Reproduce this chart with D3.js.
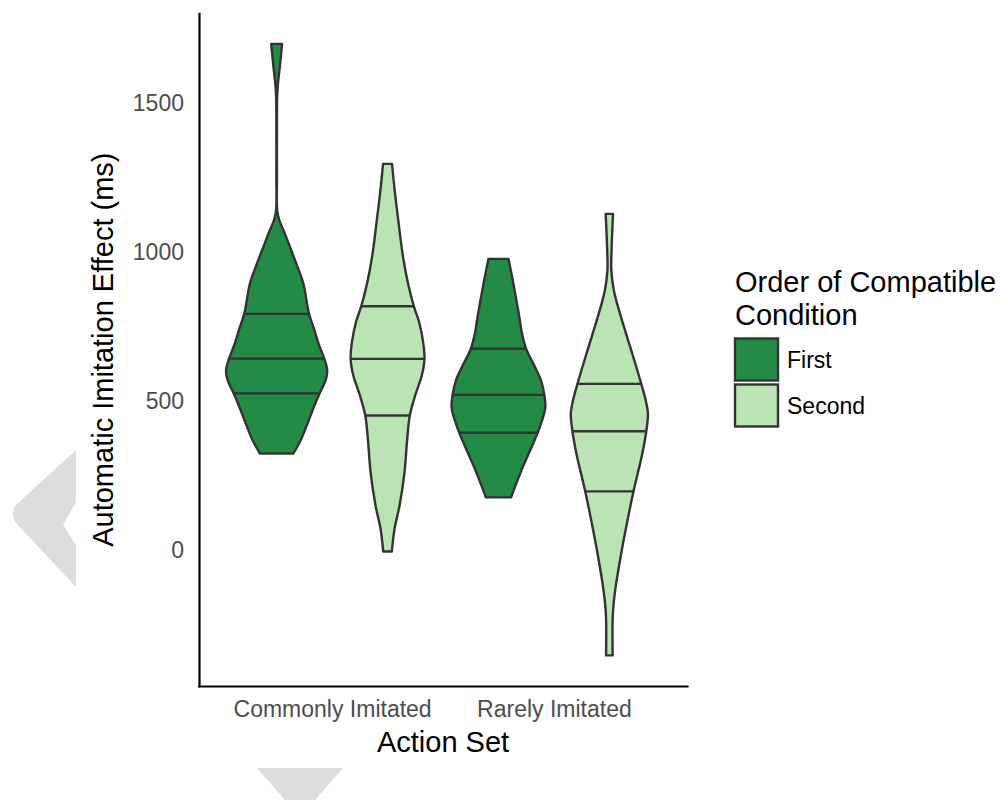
<!DOCTYPE html>
<html>
<head>
<meta charset="utf-8">
<script src="https://cdn.jsdelivr.net/npm/d3@7"></script>
<style>
  html, body { margin: 0; padding: 0; background: #ffffff; }
  svg { display: block; }
  text { font-family: "Liberation Sans", Arial, Helvetica, sans-serif; }
</style>
</head>
<body>
<svg id="chart" width="1001" height="800"></svg>
<script>
// ---------------- data ----------------
const categories = ["Commonly Imitated", "Rarely Imitated"];
const orders = ["First", "Second"];
const yTicks = [0, 500, 1000, 1500];

// density profiles: value (ms) and relative density (max = 1)
const commonFirstValues  = [1700, 1625, 1566, 1521, 1400, 1250, 1140, 1107, 1062, 1006, 951, 896, 793, 737, 693, 643, 603, 569, 526, 478, 425, 368, 324];
const commonFirstDensity = [0.108, 0.065, 0.026, 0.010, 0.006, 0.006, 0.012, 0.053, 0.164, 0.290, 0.414, 0.527, 0.641, 0.750, 0.828, 0.941, 1.000, 0.966, 0.848, 0.730, 0.611, 0.473, 0.329];
const commonFirstQuantiles = [526, 643, 793];

const commonSecondValues  = [1297, 1213, 1101, 989, 899, 819, 765, 698, 642, 586, 519, 452, 373, 261, 149, 71, -5];
const commonSecondDensity = [0.089, 0.138, 0.217, 0.302, 0.400, 0.519, 0.625, 0.704, 0.730, 0.677, 0.546, 0.440, 0.389, 0.335, 0.237, 0.138, 0.085];
const commonSecondQuantiles = [452, 642, 819];

const rareFirstValues  = [978, 894, 782, 726, 676, 614, 569, 521, 480, 435, 394, 334, 278, 222, 177];
const rareFirstDensity = [0.197, 0.296, 0.414, 0.467, 0.546, 0.724, 0.842, 0.907, 0.927, 0.862, 0.775, 0.625, 0.479, 0.349, 0.250];
const rareFirstQuantiles = [394, 521, 676];

const rareSecondValues  = [1129, 1006, 939, 872, 782, 670, 558, 502, 457, 399, 323, 197, 88, -24, -136, -203, -247, -354];
const rareSecondDensity = [0.073, 0.043, 0.039, 0.089, 0.231, 0.434, 0.631, 0.720, 0.763, 0.730, 0.651, 0.477, 0.345, 0.221, 0.114, 0.073, 0.063, 0.065];
const rareSecondQuantiles = [197, 399, 558];

// table built from the arrays above
const violins = [
  { cat: categories[0], order: orders[0], values: commonFirstValues,  density: commonFirstDensity,  q: commonFirstQuantiles },
  { cat: categories[0], order: orders[1], values: commonSecondValues, density: commonSecondDensity, q: commonSecondQuantiles },
  { cat: categories[1], order: orders[0], values: rareFirstValues,    density: rareFirstDensity,    q: rareFirstQuantiles },
  { cat: categories[1], order: orders[1], values: rareSecondValues,   density: rareSecondDensity,   q: rareSecondQuantiles }
];

// ---------------- layout / styles ----------------
const svg = d3.select("#chart");
const plot = { left: 199, right: 687, top: 13.3, bottom: 686 };
const fills = { First: "#238b45", Second: "#bae4b3" };
const outline = "#333333";
const lw = 2.4;

// decorative grey shapes present in the reference picture
const deco = svg.append("g").attr("fill", "#dddddd");
deco.append("path").attr("d", "M76,450 L16,505 Q10,514 16,523 L76,587 L76,545 L63,525 L76,502 Z");
deco.append("path").attr("d", "M257,768 L343,768 L300,817 Z");

// scales
const allVals = violins.flatMap(v => v.values);
const vMin = d3.min(allVals), vMax = d3.max(allVals);
const pad = (vMax - vMin) * 0.05;
const y = d3.scaleLinear().domain([vMin - pad, vMax + pad]).range([plot.bottom, plot.top]);
const x = d3.scalePoint().domain(categories).range([plot.left, plot.right]).padding(0.6);
const step = x.step();
const dodge = d3.scalePoint().domain(orders).range([-0.25 * step, 0.25 * step]);
const w = d3.scaleLinear().domain([0, 1]).range([0, 0.228 * step]);

// violins
const gV = svg.append("g");
violins.forEach(v => {
  const cx = x(v.cat) + dodge(v.order);
  const pts = v.values.map((val, i) => ({ val, d: v.density[i] }));
  const area = d3.area()
    .y(p => y(p.val))
    .x0(p => cx - w(p.d))
    .x1(p => cx + w(p.d))
    .curve(d3.curveCatmullRom.alpha(0.5));
  gV.append("path")
    .attr("d", area(pts))
    .attr("fill", fills[v.order])
    .attr("stroke", outline)
    .attr("stroke-width", lw)
    .attr("stroke-linejoin", "round");
  v.q.forEach(qv => {
    const idx = v.values.indexOf(qv);
    const dq = v.density[idx];
    gV.append("line")
      .attr("x1", cx - w(dq)).attr("x2", cx + w(dq))
      .attr("y1", y(qv)).attr("y2", y(qv))
      .attr("stroke", outline).attr("stroke-width", lw);
  });
});

// axes
const yAxis = svg.append("g")
  .attr("transform", `translate(${plot.left},0)`)
  .call(d3.axisLeft(y).tickValues(yTicks).tickFormat(d3.format("d")).tickSize(0).tickSizeOuter(0).tickPadding(15));
const xAxis = svg.append("g")
  .attr("transform", `translate(0,${plot.bottom})`)
  .call(d3.axisBottom(x).tickSize(0).tickSizeOuter(0).tickPadding(15));
[yAxis, xAxis].forEach(a => {
  a.select(".domain").attr("stroke", "#000").attr("stroke-width", 2.2).attr("stroke-linecap", "square");
  a.selectAll(".tick text")
    .attr("fill", "#4d4d4d")
    .style("font-size", "23px")
    .style("font-family", '"Liberation Sans", Arial, sans-serif');
});

// axis titles
svg.append("text")
  .attr("x", (plot.left + plot.right) / 2).attr("y", 752)
  .attr("text-anchor", "middle").attr("fill", "#000")
  .style("font-size", "29px")
  .text("Action Set");
svg.append("text")
  .attr("transform", `translate(113,${(plot.top + plot.bottom) / 2}) rotate(-90)`)
  .attr("text-anchor", "middle").attr("fill", "#000")
  .style("font-size", "29px")
  .text("Automatic Imitation Effect (ms)");

// legend
const lg = svg.append("g");
lg.append("text").attr("x", 735).attr("y", 292).style("font-size", "29px").attr("fill", "#000").text("Order of Compatible");
lg.append("text").attr("x", 735).attr("y", 325).style("font-size", "29px").attr("fill", "#000").text("Condition");
orders.forEach((o, i) => {
  const top = 338.5 + i * 46;
  lg.append("rect")
    .attr("x", 735).attr("y", top).attr("width", 43).attr("height", 42)
    .attr("fill", fills[o]).attr("stroke", outline).attr("stroke-width", lw);
  lg.append("text")
    .attr("x", 787).attr("y", top + 29)
    .style("font-size", "23px").attr("fill", "#000")
    .text(o);
});
</script>
</body>
</html>
